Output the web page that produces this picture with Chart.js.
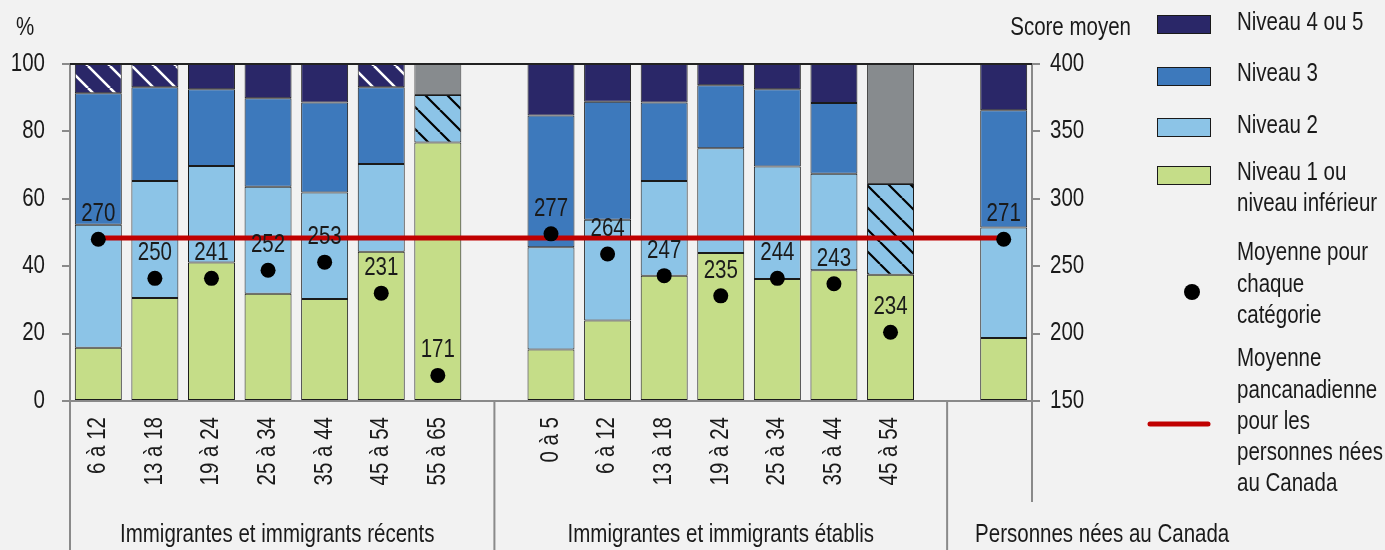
<!DOCTYPE html>
<html><head><meta charset="utf-8">
<script src="https://cdn.jsdelivr.net/npm/chart.js@4.4.1/dist/chart.umd.min.js"></script>
<style>html,body{margin:0;padding:0;background:#f2f2f2;} #wrap{width:1385px;height:550px;position:relative;}</style>
</head><body><div id="wrap"><canvas id="c"></canvas></div>
<script>
// ---- Data ----
const categories = ['6 à 12','13 à 18','19 à 24','25 à 34','35 à 44','45 à 54','55 à 65','',
                    '0 à 5','6 à 12','13 à 18','19 à 24','25 à 34','35 à 44','45 à 54','',''];
const groupLabels = ['Immigrantes et immigrants récents','Immigrantes et immigrants établis','Personnes nées au Canada'];
const seriesNames = ['Niveau 1 ou niveau inférieur','Niveau 2','Niveau 3','Niveau 4 ou 5'];
const niveau1  = [15.8,30.6,41.1,31.8,30.3,44.3,76.7,null,15.3,23.9,37.2,43.9,36.2,38.8,37.5,null,18.7];
const niveau2  = [36.5,34.7,28.6,31.8,31.6,26.0,14.1,null,30.3,29.9,28.1,31.1,33.4,28.6,26.9,null,32.8];
const niveau3  = [39.0,27.8,22.8,26.2,26.7,22.8,null,null,39.1,35.0,23.3,18.7,22.9,21.0,null,null,34.8];
const niveau45 = [8.7,6.9,7.5,10.2,11.4,6.9,null,null,15.3,11.2,11.4,6.3,7.5,11.6,null,null,13.7];
const supprime = [null,null,null,null,null,null,9.2,null,null,null,null,null,null,null,35.6,null,null];
const hatchNiveau2  = [0,0,0,0,0,0,1,0,0,0,0,0,0,0,1,0,0];
const hatchNiveau45 = [1,1,0,0,0,1,0,0,0,0,0,0,0,0,0,0,0];
const meanScoreLabels  = [270,250,241,252,253,231,171,null,277,264,247,235,244,243,234,null,271];
const meanScorePlotted = [270,241,241,247,253,230,169,null,274,259,243,228,241,237,201,null,270];
const canadaAverage = 271;
const leftTicks = [0,20,40,60,80,100];
const rightTicks = [150,200,250,300,350,400];

// ---- Styles ----
const FONT = "25px 'Liberation Sans', Arial, sans-serif";
const NARROW = 0.82;
const TXT = '#1a1a1a';
const C1 = '#c5dd88', C2 = '#8cc4e7', C3 = '#3d79bc', C45 = '#2a2768', CG = '#878b8e';
const AX = '#8a8a8a';

function nText(ctx, s, x, y, align, rot) {
  ctx.save();
  ctx.translate(x, y);
  if (rot) ctx.rotate(rot);
  ctx.scale(NARROW, 1);
  ctx.font = FONT; ctx.fillStyle = TXT;
  ctx.textAlign = align; ctx.textBaseline = 'middle';
  ctx.fillText(s, 0, 0);
  ctx.restore();
}

function hatch(bg, fg, lw) {
  const s = 22, c = document.createElement('canvas'); c.width = s; c.height = s;
  const g = c.getContext('2d'); g.fillStyle = bg; g.fillRect(0, 0, s, s);
  g.strokeStyle = fg; g.lineWidth = lw;
  g.beginPath();
  for (const o of [-s, 0, s]) { g.moveTo(o, 0); g.lineTo(o + s, s); }
  g.stroke();
  return g.createPattern(c, 'repeat');
}
const pat2 = hatch(C2, '#000', 2.2);
const pat45 = hatch(C45, '#fff', 2.6);

const barBase = { type: 'bar', order: 2, borderColor: '#1a1a1a', borderWidth: 1, borderSkipped: false,
                  barPercentage: 0.83, categoryPercentage: 1, yAxisID: 'y', stack: 's' };

const deco = {
  id: 'deco',
  beforeDraw(chart) {
    const ctx = chart.ctx; ctx.save(); ctx.fillStyle = '#f2f2f2';
    ctx.fillRect(0, 0, chart.width, chart.height); ctx.restore();
  },
  afterDatasetsDraw(chart) {
    const ctx = chart.ctx, x = chart.scales.x, y1 = chart.scales.y1;
    meanScoreLabels.forEach((v, i) => {
      if (v == null) return;
      nText(ctx, String(v), x.getPixelForValue(i), y1.getPixelForValue(meanScorePlotted[i]) - 25, 'center');
    });
  },
  afterDraw(chart) {
    const ctx = chart.ctx, a = chart.chartArea, x = chart.scales.x, y = chart.scales.y, y1 = chart.scales.y1;
    const H = chart.height;
    ctx.save();
    // axis lines
    ctx.strokeStyle = AX; ctx.lineWidth = 2;
    ctx.beginPath();
    ctx.moveTo(a.left, a.top); ctx.lineTo(a.left, H);
    ctx.moveTo(a.right, a.top); ctx.lineTo(a.right, a.bottom + 101);
    ctx.moveTo(a.left - 8, a.bottom); ctx.lineTo(a.right + 8, a.bottom);
    const d1 = x.getPixelForValue(7), d2 = x.getPixelForValue(15);
    ctx.moveTo(d1, a.bottom); ctx.lineTo(d1, H);
    ctx.moveTo(d2, a.bottom); ctx.lineTo(d2, H);
    ctx.stroke();
    ctx.strokeStyle = '#222'; ctx.lineWidth = 2;
    ctx.beginPath(); ctx.moveTo(a.left, a.top); ctx.lineTo(a.right, a.top); ctx.stroke();
    ctx.restore();
    // tick labels
    leftTicks.forEach(v => nText(ctx, String(v), 45, y.getPixelForValue(v), 'right'));
    rightTicks.forEach(v => nText(ctx, String(v), 1050, y1.getPixelForValue(v), 'left'));
    categories.forEach((c, i) => { if (c) nText(ctx, c, x.getPixelForValue(i), a.bottom + 16, 'right', -Math.PI / 2); });
    // group labels
    nText(ctx, groupLabels[0], (a.left + d1) / 2 - 5, 535, 'center');
    nText(ctx, groupLabels[1], (d1 + d2) / 2, 535, 'center');
    nText(ctx, groupLabels[2], d2 + 28, 535, 'left');
    // axis titles
    nText(ctx, '%', 25, 28, 'center');
    nText(ctx, 'Score moyen', 1131, 28, 'right');
    // legend
    ctx.save();
    const sw = [[C45, 15], [C3, 67], [C2, 118], [C1, 166]];
    sw.forEach(([c, t]) => {
      ctx.fillStyle = c; ctx.fillRect(1157, t, 54, 19);
      ctx.strokeStyle = '#1a1a1a'; ctx.lineWidth = 1; ctx.strokeRect(1157.5, t + 0.5, 53, 18);
    });
    ctx.fillStyle = '#000'; ctx.beginPath(); ctx.arc(1192, 292, 8, 0, Math.PI * 2); ctx.fill();
    ctx.strokeStyle = '#c00000'; ctx.lineWidth = 5; ctx.lineCap = 'round';
    ctx.beginPath(); ctx.moveTo(1150, 424); ctx.lineTo(1208, 424); ctx.stroke();
    ctx.restore();
    const lines = [['Niveau 4 ou 5', 23], ['Niveau 3', 74], ['Niveau 2', 126], ['Niveau 1 ou', 173],
      ['niveau inférieur', 204], ['Moyenne pour', 253], ['chaque', 285], ['catégorie', 316],
      ['Moyenne', 359], ['pancanadienne', 391], ['pour les', 422], ['personnes nées', 453], ['au Canada', 484]];
    lines.forEach(([t, yy]) => nText(ctx, t, 1237, yy, 'left'));
  }
};

new Chart(document.getElementById('c'), {
  data: {
    labels: categories,
    datasets: [
      { ...barBase, label: seriesNames[0], data: niveau1, backgroundColor: C1 },
      { ...barBase, label: seriesNames[1], data: niveau2, backgroundColor: niveau2.map((v, i) => hatchNiveau2[i] ? pat2 : C2) },
      { ...barBase, label: seriesNames[2], data: niveau3, backgroundColor: C3 },
      { ...barBase, label: seriesNames[3], data: niveau45, backgroundColor: niveau45.map((v, i) => hatchNiveau45[i] ? pat45 : C45) },
      { ...barBase, label: 'n.d.', data: supprime, backgroundColor: CG, borderColor: '#444' },
      { type: 'line', label: 'Moyenne pancanadienne', order: 1, yAxisID: 'y1', data: categories.map(() => canadaAverage),
        borderColor: '#c00000', borderWidth: 5, pointRadius: 0, fill: false },
      { type: 'line', label: 'Moyenne pour chaque catégorie', order: 0, yAxisID: 'y1', data: meanScorePlotted,
        showLine: false, pointRadius: 7.5, pointHoverRadius: 7.5, pointBackgroundColor: '#000', pointBorderWidth: 0 }
    ]
  },
  options: {
    responsive: true, maintainAspectRatio: false, animation: false,
    layout: { padding: { top: 64, left: 0, right: 0, bottom: 0 } },
    plugins: { legend: { display: false }, tooltip: { enabled: false } },
    scales: {
      x: {
        stacked: true, offset: true,
        grid: { display: false, drawTicks: false }, border: { display: false },
        ticks: { display: false, autoSkip: false },
        afterFit(s) { s.height = 149; }
      },
      y: {
        stacked: true, position: 'left', min: 0, max: 100,
        afterBuildTicks(s) { s.ticks = leftTicks.map(v => ({ value: v })); },
        grid: { drawOnChartArea: false, tickLength: 8, color: AX, lineWidth: 2 }, border: { display: false },
        ticks: { display: false },
        afterFit(s) { s.width = 70; }
      },
      y1: {
        position: 'right', min: 150, max: 400,
        afterBuildTicks(s) { s.ticks = rightTicks.map(v => ({ value: v })); },
        grid: { drawOnChartArea: false, tickLength: 8, color: AX, lineWidth: 2 }, border: { display: false },
        ticks: { display: false },
        afterFit(s) { s.width = 353; }
      }
    }
  },
  plugins: [deco]
});
</script></body></html>
